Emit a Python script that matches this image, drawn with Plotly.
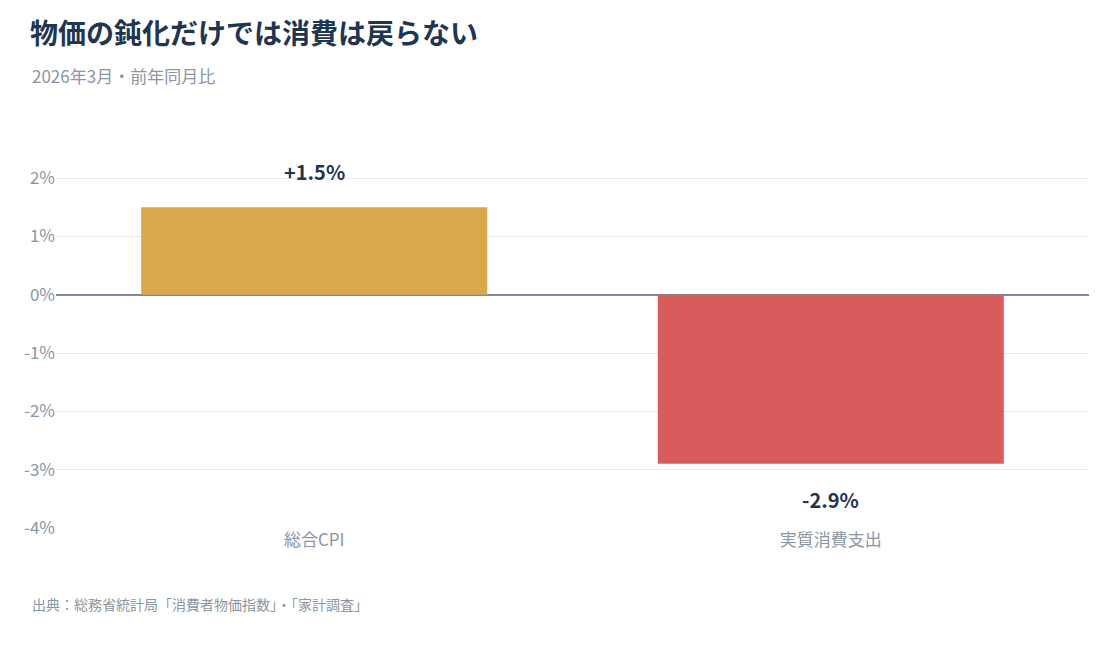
import plotly.graph_objects as go

categories = ["総合CPI", "実質消費支出"]
values = [1.5, -2.9]
labels = ["+1.5%", "-2.9%"]
colors = ["#d8a84a", "#d85c5c"]
tick_vals = [2, 1, 0, -1, -2, -3, -4]
tick_text = ["2%", "1%", "0%", "-1%", "-2%", "-3%", "-4%"]

font = "Noto Sans CJK JP"

fig = go.Figure(go.Bar(x=categories, y=values, marker_color=colors,
                       marker_line_width=0, hoverinfo="skip"))

for c, v, t in zip(categories, values, labels):
    fig.add_annotation(x=c, y=v, text="<b>" + t + "</b>", showarrow=False,
                       yshift=36 if v > 0 else -36,
                       font=dict(size=20, color="#1f3550", family=font))

fig.update_layout(
    width=1103, height=649,
    margin=dict(l=48, r=22, t=141, b=129),
    plot_bgcolor="white", paper_bgcolor="white",
    bargap=0.33, showlegend=False,
    font=dict(family=font, color="#8a96a3"),
    title=dict(text="<b>物価の鈍化だけでは消費は戻らない</b>",
               x=0.02, xanchor="left", xref="container",
               y=0.975, yanchor="top", yref="container",
               font=dict(size=28, color="#1f3550", family=font)),
    xaxis=dict(tickfont=dict(size=17, color="#8a96a3"), showgrid=False,
               showline=False, ticks=""),
    yaxis=dict(range=[-4, 2.5], tickvals=tick_vals, ticktext=tick_text,
               tickfont=dict(size=17, color="#8a96a3"),
               gridcolor="#e8eaed", zeroline=True, zerolinecolor="#7d8a99",
               zerolinewidth=1.5, ticks=""),
)

fig.add_annotation(text="2026年3月・前年同月比",
                   xref="paper", yref="paper", x=-0.025, y=1.193,
                   xanchor="left", yanchor="middle", showarrow=False,
                   font=dict(size=17, color="#8a96a3", family=font))

fig.add_annotation(text="出典：総務省統計局「消費者物価指数」・「家計調査」",
                   xref="paper", yref="paper", x=-0.025, y=-0.2,
                   xanchor="left", yanchor="middle", showarrow=False,
                   font=dict(size=14, color="#8a96a3", family=font))

fig.write_html("out.html")
